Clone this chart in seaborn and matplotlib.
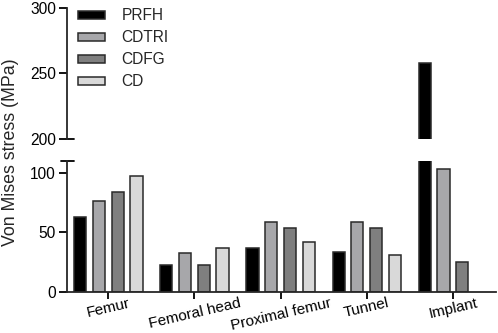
import numpy as np
import pandas as pd
import seaborn as sns
import matplotlib.pyplot as plt

sites = ['Femur', 'Femoral head', 'Proximal femur', 'Tunnel', 'Implant']
groups = ['PRFH', 'CDTRI', 'CDFG', 'CD']
prfh = [63, 23, 37, 34, 258]
cdtri = [76, 33, 59, 59, 103]
cdfg = [84, 23, 54, 54, 25]
cd = [97, 37, 42, 31, np.nan]
colors = ['#000000', '#a6a6ab', '#7f7f7f', '#d9d9d9']

rows = []
for g, vals in zip(groups, [prfh, cdtri, cdfg, cd]):
    for s, v in zip(sites, vals):
        rows.append({'site': s, 'group': g, 'stress': v})
df = pd.DataFrame(rows)

sns.set_style('ticks')
plt.rcParams['font.family'] = ['Liberation Sans', 'DejaVu Sans']

fig = plt.figure(figsize=(4.98, 3.33), dpi=100)
ax_lo = fig.add_axes([0.1345, 0.1231, 0.8614, 0.3934])
ax_hi = fig.add_axes([0.1345, 0.5826, 0.8614, 0.3934])

for ax in (ax_lo, ax_hi):
    sns.barplot(data=df, x='site', y='stress', hue='group', order=sites,
                hue_order=groups, palette=colors, errorbar=None,
                width=0.87, gap=0.35, edgecolor='#2a2a2a', linewidth=1.1,
                ax=ax, legend=(ax is ax_hi))
    ax.set_xlim(-0.48, 4.5)
    ax.set_xlabel('')
    ax.set_ylabel('')
    for side in ['top', 'right']:
        ax.spines[side].set_visible(False)
    ax.spines['left'].set_linewidth(1.3)
    ax.spines['bottom'].set_linewidth(1.3)
    ax.tick_params(width=1.3, length=6, labelsize=11.2, colors='black', pad=2)

ax_lo.set_ylim(0, 110)
ax_lo.set_yticks([0, 50, 100])
ax_lo.set_xticks(range(len(sites)))
ax_lo.set_xticklabels(sites, rotation=13, ha='center', fontsize=11)
ax_lo.tick_params(axis='x', length=5, pad=-2)

ax_hi.set_ylim(200, 300)
ax_hi.set_yticks([200, 250, 300])
ax_hi.spines['bottom'].set_visible(False)
ax_hi.tick_params(axis='x', bottom=False, labelbottom=False)

# axis break marks
dx_l = 6 / 429
dx_r = 7 / 429
ax_lo.plot([-dx_l, dx_r], [1, 1], transform=ax_lo.transAxes, color='black',
           lw=1.3, clip_on=False)
ax_hi.plot([0, dx_r], [0, 0], transform=ax_hi.transAxes, color='black',
           lw=1.3, clip_on=False)

leg = ax_hi.legend(loc='upper left', bbox_to_anchor=(0.0, 1.08), frameon=False,
                   fontsize=11.2, handlelength=1.75, handleheight=0.4,
                   labelspacing=0.45, handletextpad=1.05, borderaxespad=0.3)

fig.text(0.005, 0.542, 'Von Mises stress (MPa)', rotation=90, va='center',
         ha='left', fontsize=12.8)

fig.savefig('out.png', dpi=100)
